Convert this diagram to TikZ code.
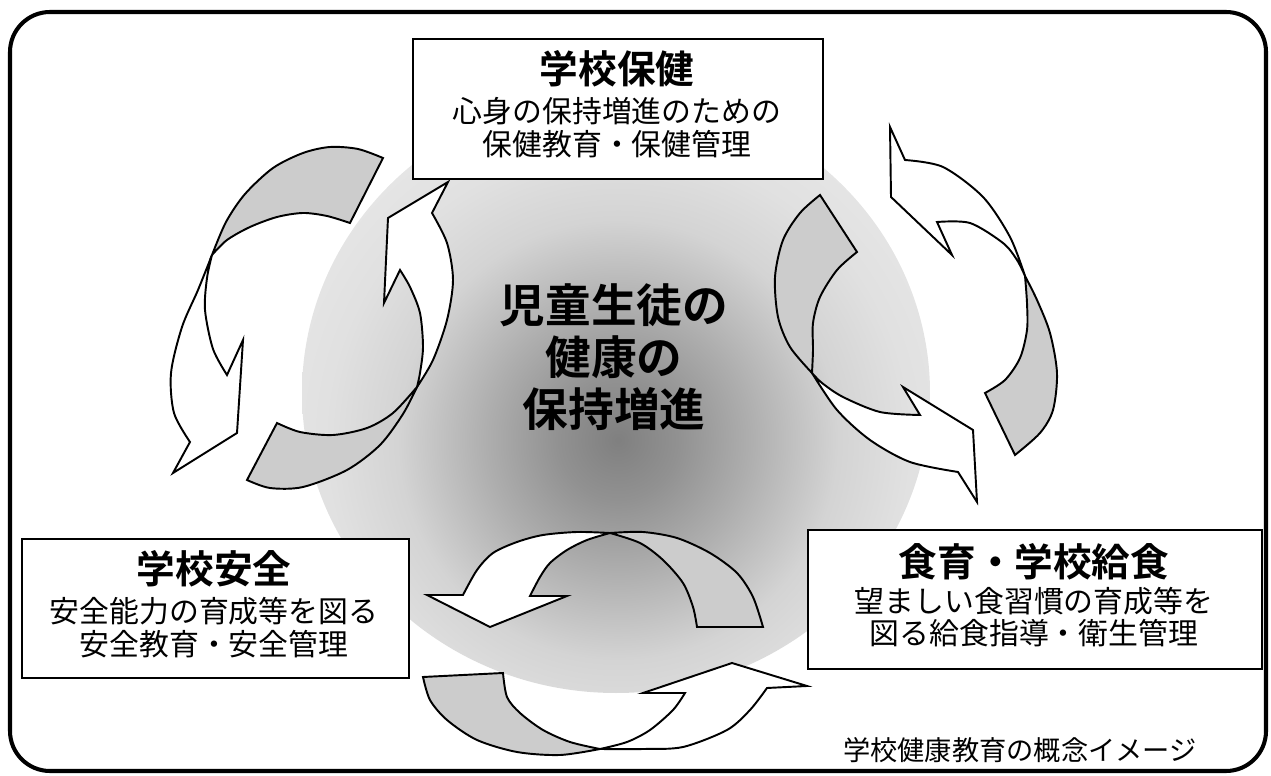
\documentclass[tikz,border=0pt]{standalone}
\usepackage{fontspec}
\setmainfont{Noto Sans CJK JP}[BoldFont={Noto Sans CJK JP Bold}]

\pgfdeclareradialshading{hubglow}{\pgfpoint{0bp}{0bp}}{%
  color(0bp)=(black!50); color(4.3bp)=(black!43); color(9.3bp)=(black!32);
  color(15.7bp)=(black!17); color(20.7bp)=(black!12); color(25bp)=(black!10);
  color(50bp)=(black!10)}

\begin{document}
\begin{tikzpicture}[
		x = 0.02cm, y = -0.02cm, % one unit = one pixel of the sketch
		infobox/.style = {draw, line width=1.25pt, fill=white, inner sep=0pt},
		boxtext/.style = {align=center, inner sep=0pt, font=\fontsize{17}{18.4}\selectfont},
		backside/.style = {draw, fill=black!20, line width=1.1pt},
		frontside/.style = {draw, fill=white, line width=1.1pt}
		]
		
		\useasboundingbox (0,0) rectangle (1271,776);
		\draw[line width=2.3pt, rounded corners=0.8cm] (10,12) rectangle (1266,771);
		
		% glow behind everything
		\begin{scope}
			\clip (616,393) ellipse [x radius=314, y radius=300];
			\shade[shading=hubglow] (618,440) circle [radius=350];
		\end{scope}
		
		\node[align=center, inner sep=0pt, font=\fontsize{26}{29.5}\selectfont\bfseries] (goal) at (614,357) {児童生徒の\\健康の\\保持増進};
		
		% left pair
		\draw[backside] plot[smooth] coordinates {(383,158) (358,149) (330,147) (303,153) (273,168) (245,194) (226,222) (212,255)}
			-- plot[smooth] coordinates {(212,255) (227,240) (250,227) (277,217) (303,213) (327,216) (350,223)} -- cycle;
		\draw[frontside] plot[smooth] coordinates {(212,255) (198,290) (182,327) (171,373) (174,413) (190,442)}
			-- (173,473) -- (237,433) -- (243,340)
			-- plot[smooth] coordinates {(227,375) (213,349) (205,310) (207,278) (212,255)} -- cycle;
		\draw[backside] plot[smooth] coordinates {(247,480) (270,488) (303,487) (347,470) (380,445) (403,414) (417,387)}
			-- plot[smooth] coordinates {(417,387) (393,413) (367,428) (333,435) (300,432) (277,423)} -- cycle;
		\draw[frontside] plot[smooth] coordinates {(417,387) (433,360) (447,320) (453,280) (447,243) (432,213)}
			-- (448,182) -- (388,218) -- (384,303)
			-- plot[smooth] coordinates {(400,270) (410,287) (420,313) (423,347) (420,373) (417,387)} -- cycle;
		
		% right pair
		\draw[frontside] plot[smooth] coordinates {(1025,276) (1010,237) (983,197) (943,167) (905,160)}
			-- (890,127) -- (891,197) -- (952,255)
			-- plot[smooth] coordinates {(937,222) (970,223) (1003,243) (1017,260) (1025,276)} -- cycle;
		\draw[backside] plot[smooth] coordinates {(1025,276) (1037,300) (1050,333) (1057,373) (1053,410) (1040,433) (1015,455)}
			-- plot[smooth] coordinates {(985,393) (1005,380) (1020,358) (1027,330) (1027,303) (1025,276)} -- cycle;
		\draw[backside] plot[smooth] coordinates {(820,195) (800,213) (783,240) (775,277) (778,317) (790,347) (812,373)}
			-- plot[smooth] coordinates {(812,373) (813,350) (813,323) (820,297) (837,270) (857,252)} -- cycle;
		\draw[frontside] plot[smooth] coordinates {(812,373) (837,410) (870,440) (910,462) (958,472)}
			-- (977,502) -- (973,430) -- (903,387)
			-- plot[smooth] coordinates {(920,415) (880,412) (843,397) (822,383) (812,373)} -- cycle;
		
		% bottom pair
		\draw[frontside] plot[smooth] coordinates {(610,533) (577,532) (543,535) (517,542) (493,553) (477,570) (463,595)}
			-- (427,595) -- (490,627) -- (567,596)
			-- plot[smooth] coordinates {(530,596) (540,577) (550,563) (567,550) (587,540) (610,533)} -- cycle;
		\draw[backside] plot[smooth] coordinates {(610,533) (643,532) (677,538) (710,553) (737,573) (753,597) (763,627)}
			-- plot[smooth] coordinates {(697,627) (693,607) (683,583) (663,560) (640,543) (610,533)} -- cycle;
		\draw[backside] plot[smooth] coordinates {(423,677) (430,700) (447,720) (477,740) (517,752) (560,755) (600,749)}
			-- plot[smooth] coordinates {(600,749) (570,742) (543,730) (520,713) (507,697) (503,673)} -- cycle;
		\draw[frontside] plot[smooth] coordinates {(600,749) (643,749) (683,747) (727,730) (750,710) (767,688)}
			-- (807,686) -- (732,663) -- (643,693)
			-- plot[smooth] coordinates {(685,693) (673,710) (650,730) (627,742) (600,749)} -- cycle;
		
		% the three fields
		\node[infobox, minimum width=8.2cm, minimum height=2.8cm] (hoken) at (618,109) {};
		\node[boxtext] (hokentext) at (617,104) {{\fontsize{22}{24}\selectfont\bfseries 学校保健}\\[4pt]心身の保持増進のための\\保健教育・保健管理};
		
		\node[infobox, minimum width=7.74cm, minimum height=2.78cm] (anzen) at (215.5,608.5) {};
		\node[boxtext] (anzentext) at (214,604) {{\fontsize{22}{24}\selectfont\bfseries 学校安全}\\[4pt]安全能力の育成等を図る\\安全教育・安全管理};
		
		\node[infobox, minimum width=9.08cm, minimum height=2.78cm] (shokuiku) at (1035,599.5) {};
		\node[boxtext] (shokuikutext) at (1034,595) {{\fontsize{22}{24}\selectfont\bfseries 食育・学校給食}\\[2pt]望ましい食習慣の育成等を\\図る給食指導・衛生管理};
		
		\node[font=\fontsize{15.5}{17}\selectfont] (caption) at (1020,750) {学校健康教育の概念イメージ};
	\end{tikzpicture}
\end{document}
